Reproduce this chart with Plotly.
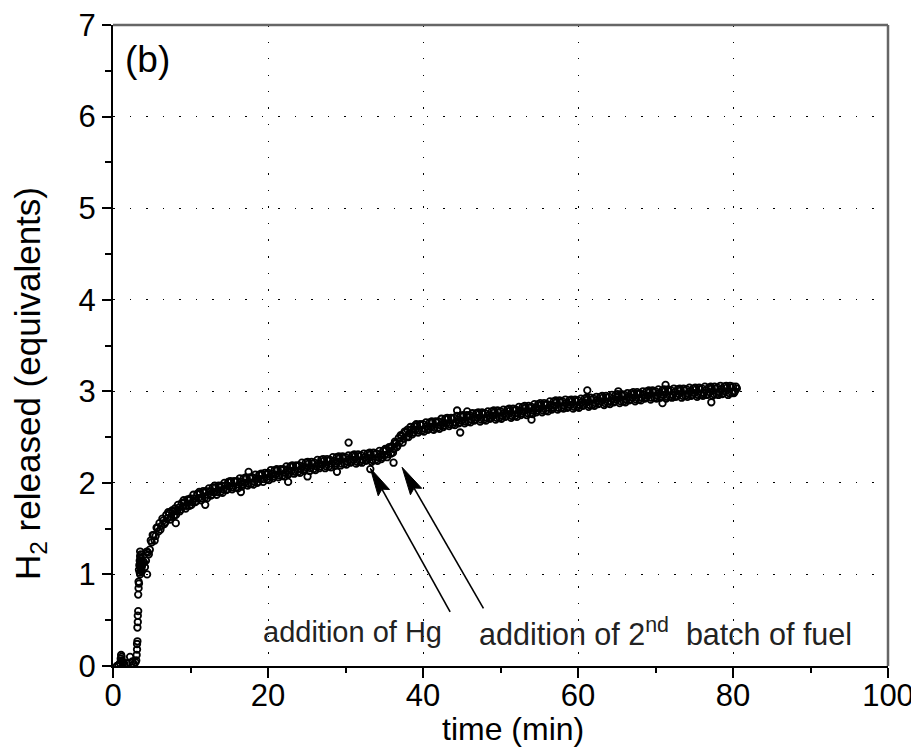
import math
import plotly.graph_objects as go

# ---- data ----
t_early = [0.5, 0.7, 0.9, 1.0, 1.05, 1.1, 1.15, 1.2, 1.3, 1.5, 1.8, 2.2, 2.5, 2.7, 2.9,
           3.0, 3.05, 3.1, 3.1, 3.15, 3.15, 3.2, 3.2, 3.25, 3.25, 3.3, 3.3, 3.35, 3.35,
           3.4, 3.45, 3.5, 3.5, 3.5, 3.55, 3.55, 3.6, 3.6, 3.65, 3.7, 3.8, 3.9,
           3.45, 3.5, 3.55, 3.6, 3.65, 3.7, 3.75]
y_early = [0.00, 0.01, 0.03, 0.08, 0.12, 0.10, 0.06, 0.04, 0.03, 0.02, 0.03, 0.10, 0.05, 0.02, 0.04,
           0.06, 0.12, 0.18, 0.24, 0.27, 0.42, 0.48, 0.55, 0.60, 0.78, 0.85, 0.92, 0.90, 1.05,
           1.10, 1.15, 1.20, 1.25, 1.00, 1.08, 1.18, 1.12, 1.22, 1.05, 1.08, 1.12, 1.14,
           1.02, 1.10, 1.14, 1.06, 1.17, 1.03, 1.10]

t_main = [
    4.0, 4.25, 4.5, 4.75, 5.0, 5.25, 5.5, 5.75, 6.0, 6.25, 6.5, 6.75, 7.0, 7.25, 7.5, 7.75,
    8.0, 8.25, 8.5, 8.75, 9.0, 9.25, 9.5, 9.75, 10.0, 10.25, 10.5, 10.75, 11.0, 11.25, 11.5, 11.75,
    12.0, 12.25, 12.5, 12.75, 13.0, 13.25, 13.5, 13.75, 14.0, 14.25, 14.5, 14.75, 15.0, 15.25, 15.5, 15.75,
    16.0, 16.25, 16.5, 16.75, 17.0, 17.25, 17.5, 17.75, 18.0, 18.25, 18.5, 18.75, 19.0, 19.25, 19.5, 19.75,
    20.0, 20.25, 20.5, 20.75, 21.0, 21.25, 21.5, 21.75, 22.0, 22.25, 22.5, 22.75, 23.0, 23.25, 23.5, 23.75,
    24.0, 24.25, 24.5, 24.75, 25.0, 25.25, 25.5, 25.75, 26.0, 26.25, 26.5, 26.75, 27.0, 27.25, 27.5, 27.75,
    28.0, 28.25, 28.5, 28.75, 29.0, 29.25, 29.5, 29.75, 30.0, 30.25, 30.5, 30.75, 31.0, 31.25, 31.5, 31.75,
    32.0, 32.25, 32.5, 32.75, 33.0, 33.25, 33.5, 33.75, 34.0, 34.25, 34.5, 34.75, 35.0, 35.25, 35.5, 35.75,
    36.0, 36.25, 36.5, 36.75, 37.0, 37.25, 37.5, 37.75, 38.0, 38.25, 38.5, 38.75, 39.0, 39.25, 39.5, 39.75,
    40.0, 40.25, 40.5, 40.75, 41.0, 41.25, 41.5, 41.75, 42.0, 42.25, 42.5, 42.75, 43.0, 43.25, 43.5, 43.75,
    44.0, 44.25, 44.5, 44.75, 45.0, 45.25, 45.5, 45.75, 46.0, 46.25, 46.5, 46.75, 47.0, 47.25, 47.5, 47.75,
    48.0, 48.25, 48.5, 48.75, 49.0, 49.25, 49.5, 49.75, 50.0, 50.25, 50.5, 50.75, 51.0, 51.25, 51.5, 51.75,
    52.0, 52.25, 52.5, 52.75, 53.0, 53.25, 53.5, 53.75, 54.0, 54.25, 54.5, 54.75, 55.0, 55.25, 55.5, 55.75,
    56.0, 56.25, 56.5, 56.75, 57.0, 57.25, 57.5, 57.75, 58.0, 58.25, 58.5, 58.75, 59.0, 59.25, 59.5, 59.75,
    60.0, 60.25, 60.5, 60.75, 61.0, 61.25, 61.5, 61.75, 62.0, 62.25, 62.5, 62.75, 63.0, 63.25, 63.5, 63.75,
    64.0, 64.25, 64.5, 64.75, 65.0, 65.25, 65.5, 65.75, 66.0, 66.25, 66.5, 66.75, 67.0, 67.25, 67.5, 67.75,
    68.0, 68.25, 68.5, 68.75, 69.0, 69.25, 69.5, 69.75, 70.0, 70.25, 70.5, 70.75, 71.0, 71.25, 71.5, 71.75,
    72.0, 72.25, 72.5, 72.75, 73.0, 73.25, 73.5, 73.75, 74.0, 74.25, 74.5, 74.75, 75.0, 75.25, 75.5, 75.75,
    76.0, 76.25, 76.5, 76.75, 77.0, 77.25, 77.5, 77.75, 78.0, 78.25, 78.5, 78.75, 79.0, 79.25, 79.5, 79.75,
    80.0, 80.25, 80.5]
y_main = [
    1.13, 1.15, 1.24, 1.27, 1.35, 1.43, 1.42, 1.51, 1.56, 1.53, 1.59, 1.57, 1.61, 1.67, 1.63, 1.69,
    1.72, 1.69, 1.73, 1.71, 1.74, 1.79, 1.75, 1.81, 1.83, 1.79, 1.83, 1.80, 1.83, 1.88, 1.83, 1.89,
    1.91, 1.87, 1.91, 1.87, 1.90, 1.95, 1.90, 1.95, 1.97, 1.93, 1.97, 1.93, 1.96, 2.01, 1.95, 2.01,
    2.02, 1.98, 2.01, 1.98, 2.00, 2.05, 1.99, 2.05, 2.06, 2.01, 2.05, 2.01, 2.04, 2.09, 2.04, 2.09,
    2.11, 2.07, 2.10, 2.07, 2.09, 2.14, 2.08, 2.14, 2.15, 2.11, 2.14, 2.11, 2.13, 2.18, 2.12, 2.18,
    2.19, 2.15, 2.18, 2.15, 2.17, 2.21, 2.16, 2.21, 2.22, 2.18, 2.21, 2.18, 2.20, 2.24, 2.18, 2.24,
    2.25, 2.21, 2.24, 2.21, 2.23, 2.27, 2.21, 2.27, 2.28, 2.23, 2.26, 2.23, 2.25, 2.29, 2.23, 2.29,
    2.30, 2.25, 2.28, 2.25, 2.27, 2.31, 2.25, 2.31, 2.32, 2.28, 2.31, 2.28, 2.30, 2.36, 2.31, 2.38,
    2.40, 2.37, 2.43, 2.41, 2.45, 2.51, 2.48, 2.55, 2.58, 2.54, 2.58, 2.55, 2.58, 2.62, 2.57, 2.63,
    2.64, 2.59, 2.62, 2.59, 2.61, 2.66, 2.60, 2.66, 2.67, 2.63, 2.66, 2.63, 2.65, 2.70, 2.64, 2.70,
    2.71, 2.66, 2.69, 2.66, 2.68, 2.73, 2.67, 2.73, 2.74, 2.69, 2.72, 2.69, 2.71, 2.75, 2.69, 2.75,
    2.76, 2.71, 2.74, 2.71, 2.73, 2.77, 2.71, 2.77, 2.78, 2.73, 2.76, 2.73, 2.75, 2.79, 2.73, 2.79,
    2.80, 2.76, 2.79, 2.76, 2.78, 2.82, 2.76, 2.82, 2.83, 2.79, 2.82, 2.79, 2.81, 2.85, 2.79, 2.85,
    2.86, 2.82, 2.85, 2.82, 2.84, 2.88, 2.82, 2.88, 2.89, 2.84, 2.87, 2.83, 2.85, 2.89, 2.83, 2.89,
    2.90, 2.85, 2.88, 2.85, 2.87, 2.91, 2.85, 2.91, 2.92, 2.87, 2.90, 2.87, 2.89, 2.93, 2.87, 2.93,
    2.94, 2.89, 2.92, 2.89, 2.91, 2.95, 2.89, 2.95, 2.96, 2.91, 2.94, 2.91, 2.93, 2.97, 2.91, 2.97,
    2.98, 2.93, 2.96, 2.93, 2.95, 2.99, 2.93, 2.99, 3.00, 2.95, 2.98, 2.94, 2.96, 3.00, 2.94, 3.00,
    3.01, 2.96, 2.99, 2.95, 2.97, 3.01, 2.95, 3.01, 3.02, 2.97, 3.00, 2.96, 2.98, 3.02, 2.96, 3.02,
    3.03, 2.98, 3.01, 2.97, 2.99, 3.03, 2.97, 3.03, 3.04, 2.99, 3.02, 2.98, 3.00, 3.04, 2.98, 3.04,
    3.05, 3.00, 3.03]

t_main2 = [
    4.125, 4.375, 4.625, 4.875, 5.125, 5.375, 5.625, 5.875, 6.125, 6.375, 6.625, 6.875, 7.125, 7.375, 7.625, 7.875,
    8.125, 8.375, 8.625, 8.875, 9.125, 9.375, 9.625, 9.875, 10.125, 10.375, 10.625, 10.875, 11.125, 11.375, 11.625, 11.875,
    12.125, 12.375, 12.625, 12.875, 13.125, 13.375, 13.625, 13.875, 14.125, 14.375, 14.625, 14.875, 15.125, 15.375, 15.625, 15.875,
    16.125, 16.375, 16.625, 16.875, 17.125, 17.375, 17.625, 17.875, 18.125, 18.375, 18.625, 18.875, 19.125, 19.375, 19.625, 19.875,
    20.125, 20.375, 20.625, 20.875, 21.125, 21.375, 21.625, 21.875, 22.125, 22.375, 22.625, 22.875, 23.125, 23.375, 23.625, 23.875,
    24.125, 24.375, 24.625, 24.875, 25.125, 25.375, 25.625, 25.875, 26.125, 26.375, 26.625, 26.875, 27.125, 27.375, 27.625, 27.875,
    28.125, 28.375, 28.625, 28.875, 29.125, 29.375, 29.625, 29.875, 30.125, 30.375, 30.625, 30.875, 31.125, 31.375, 31.625, 31.875,
    32.125, 32.375, 32.625, 32.875, 33.125, 33.375, 33.625, 33.875, 34.125, 34.375, 34.625, 34.875, 35.125, 35.375, 35.625, 35.875,
    36.125, 36.375, 36.625, 36.875, 37.125, 37.375, 37.625, 37.875, 38.125, 38.375, 38.625, 38.875, 39.125, 39.375, 39.625, 39.875,
    40.125, 40.375, 40.625, 40.875, 41.125, 41.375, 41.625, 41.875, 42.125, 42.375, 42.625, 42.875, 43.125, 43.375, 43.625, 43.875,
    44.125, 44.375, 44.625, 44.875, 45.125, 45.375, 45.625, 45.875, 46.125, 46.375, 46.625, 46.875, 47.125, 47.375, 47.625, 47.875,
    48.125, 48.375, 48.625, 48.875, 49.125, 49.375, 49.625, 49.875, 50.125, 50.375, 50.625, 50.875, 51.125, 51.375, 51.625, 51.875,
    52.125, 52.375, 52.625, 52.875, 53.125, 53.375, 53.625, 53.875, 54.125, 54.375, 54.625, 54.875, 55.125, 55.375, 55.625, 55.875,
    56.125, 56.375, 56.625, 56.875, 57.125, 57.375, 57.625, 57.875, 58.125, 58.375, 58.625, 58.875, 59.125, 59.375, 59.625, 59.875,
    60.125, 60.375, 60.625, 60.875, 61.125, 61.375, 61.625, 61.875, 62.125, 62.375, 62.625, 62.875, 63.125, 63.375, 63.625, 63.875,
    64.125, 64.375, 64.625, 64.875, 65.125, 65.375, 65.625, 65.875, 66.125, 66.375, 66.625, 66.875, 67.125, 67.375, 67.625, 67.875,
    68.125, 68.375, 68.625, 68.875, 69.125, 69.375, 69.625, 69.875, 70.125, 70.375, 70.625, 70.875, 71.125, 71.375, 71.625, 71.875,
    72.125, 72.375, 72.625, 72.875, 73.125, 73.375, 73.625, 73.875, 74.125, 74.375, 74.625, 74.875, 75.125, 75.375, 75.625, 75.875,
    76.125, 76.375, 76.625, 76.875, 77.125, 77.375, 77.625, 77.875, 78.125, 78.375, 78.625, 78.875, 79.125, 79.375, 79.625, 79.875,
    80.125, 80.375]
y_main2 = [
    1.08, 1.25, 1.22, 1.37, 1.43, 1.37, 1.51, 1.47, 1.49, 1.61, 1.55, 1.65, 1.68, 1.60, 1.70, 1.64,
    1.65, 1.76, 1.69, 1.78, 1.81, 1.72, 1.82, 1.75, 1.76, 1.87, 1.79, 1.88, 1.90, 1.81, 1.91, 1.84,
    1.83, 1.94, 1.86, 1.95, 1.97, 1.87, 1.97, 1.90, 1.89, 2.00, 1.92, 2.01, 2.02, 1.93, 2.02, 1.95,
    1.94, 2.05, 1.96, 2.05, 2.06, 1.97, 2.06, 1.99, 1.98, 2.09, 2.00, 2.09, 2.10, 2.01, 2.11, 2.04,
    2.03, 2.14, 2.05, 2.14, 2.15, 2.06, 2.15, 2.08, 2.07, 2.18, 2.09, 2.18, 2.19, 2.10, 2.19, 2.12,
    2.11, 2.22, 2.13, 2.22, 2.23, 2.13, 2.23, 2.15, 2.14, 2.25, 2.16, 2.25, 2.26, 2.16, 2.26, 2.18,
    2.17, 2.28, 2.19, 2.28, 2.29, 2.19, 2.29, 2.21, 2.20, 2.30, 2.22, 2.30, 2.31, 2.21, 2.31, 2.23,
    2.22, 2.32, 2.24, 2.32, 2.33, 2.23, 2.33, 2.25, 2.24, 2.35, 2.26, 2.35, 2.37, 2.28, 2.39, 2.32,
    2.33, 2.45, 2.39, 2.49, 2.52, 2.44, 2.56, 2.50, 2.50, 2.61, 2.53, 2.62, 2.64, 2.55, 2.64, 2.57,
    2.56, 2.66, 2.58, 2.66, 2.67, 2.58, 2.67, 2.60, 2.59, 2.70, 2.61, 2.70, 2.71, 2.62, 2.71, 2.64,
    2.63, 2.73, 2.65, 2.73, 2.74, 2.65, 2.74, 2.67, 2.66, 2.76, 2.68, 2.76, 2.77, 2.67, 2.77, 2.69,
    2.68, 2.78, 2.70, 2.78, 2.79, 2.69, 2.79, 2.71, 2.70, 2.80, 2.72, 2.80, 2.81, 2.71, 2.81, 2.73,
    2.72, 2.83, 2.74, 2.83, 2.84, 2.74, 2.84, 2.76, 2.75, 2.86, 2.77, 2.86, 2.87, 2.77, 2.87, 2.79,
    2.78, 2.89, 2.80, 2.89, 2.90, 2.80, 2.90, 2.82, 2.81, 2.91, 2.82, 2.90, 2.91, 2.81, 2.91, 2.83,
    2.82, 2.92, 2.84, 2.92, 2.93, 2.83, 2.93, 2.85, 2.84, 2.94, 2.86, 2.94, 2.95, 2.85, 2.95, 2.87,
    2.86, 2.96, 2.88, 2.96, 2.97, 2.87, 2.97, 2.89, 2.88, 2.98, 2.90, 2.98, 2.99, 2.89, 2.99, 2.91,
    2.90, 3.00, 2.92, 3.00, 3.01, 2.91, 3.01, 2.93, 2.92, 3.02, 2.93, 3.01, 3.02, 2.92, 3.02, 2.94,
    2.93, 3.03, 2.94, 3.02, 3.03, 2.93, 3.03, 2.95, 2.94, 3.04, 2.95, 3.03, 3.04, 2.94, 3.04, 2.96,
    2.95, 3.05, 2.96, 3.04, 3.05, 2.95, 3.05, 2.97, 2.96, 3.06, 2.97, 3.05, 3.06, 2.96, 3.06, 2.98,
    2.98, 3.05]

t_outliers = [4.4, 8.1, 11.9, 16.5, 17.5, 22.6, 25.1, 28.9, 30.4, 33.2, 36.2, 36.5,
              44.4, 44.8, 45.7, 54.0, 61.2, 65.2, 70.9, 71.3, 77.2]
y_outliers = [1.00, 1.56, 1.76, 1.90, 2.12, 2.01, 2.07, 2.12, 2.44, 2.15, 2.22, 2.44,
              2.79, 2.55, 2.78, 2.69, 3.01, 3.00, 2.87, 3.07, 2.88]

x_ticks = [0, 20, 40, 60, 80, 100]
y_ticks = [0, 1, 2, 3, 4, 5, 6, 7]
X_RANGE = [0, 100]
Y_RANGE = [0, 7]

FONT = "Liberation Sans, Arial, Helvetica, sans-serif"

W, H = 919, 748
M = dict(l=105, r=39, t=17, b=90)   # page body adds an 8px offset
PW = W - M["l"] - M["r"]
PH = H - M["t"] - M["b"]

fig = go.Figure()
fig.add_trace(go.Scatter(
    x=t_early + t_main + t_main2 + t_outliers,
    y=y_early + y_main + y_main2 + y_outliers,
    mode="markers",
    marker=dict(symbol="circle-open", size=6.5, color="black", line=dict(width=1.8, color="black")),
    showlegend=False,
    hoverinfo="x+y",
))

axis_common = dict(
    showline=True, linecolor="black", linewidth=2, mirror=False,
    ticks="outside", tickcolor="black", tickwidth=1.5,
    showgrid=True, gridcolor="black", gridwidth=1.2, griddash="1.5px,15px",
    zeroline=False, automargin=False, ticklabeloverflow="allow",
    tickfont=dict(family=FONT, size=31, color="black"),
)

fig.update_xaxes(
    range=X_RANGE, tickvals=x_ticks, ticklen=10, ticklabelstandoff=-9,
    minor=dict(dtick=10, ticklen=5, tickcolor="black", tickwidth=1.5, ticks="outside", showgrid=False),
    **axis_common,
)
fig.update_yaxes(
    range=Y_RANGE, tickvals=y_ticks, ticklen=9,
    minor=dict(dtick=0.5, ticklen=6, tickcolor="black", tickwidth=1.5, ticks="outside", showgrid=False),
    **axis_common,
)

# axis titles as annotations (placed like the reference)
fig.add_annotation(xref="paper", yref="paper", x=0.516, y=-0.098, text="time (min)",
                   showarrow=False, xanchor="center", yanchor="middle",
                   font=dict(family=FONT, size=32, color="black"))
fig.add_annotation(xref="paper", yref="paper", x=-0.107, y=0.44,
                   text="H<sub>2</sub> released (equivalents)", textangle=-90,
                   showarrow=False, xanchor="center", yanchor="middle",
                   font=dict(family=FONT, size=35, color="black"))

# top and right frame lines (grey)
fig.add_shape(type="line", xref="paper", yref="paper", x0=0, x1=1, y0=1, y1=1,
              line=dict(color="#666666", width=2.5))
fig.add_shape(type="line", xref="paper", yref="paper", x0=1, x1=1, y0=0, y1=1,
              line=dict(color="#666666", width=2.5))

ann_font = dict(family=FONT, size=29, color="#222222")
fig.add_annotation(x=1.3, y=6.62, xref="x", yref="y", text="(b)", showarrow=False,
                   xanchor="left", yanchor="middle", font=dict(family=FONT, size=37, color="black"))
fig.add_annotation(x=30.9, y=0.37, xref="x", yref="y", text="addition of Hg", showarrow=False,
                   xanchor="center", yanchor="middle", font=ann_font)
fig.add_annotation(x=71.3, y=0.37, xref="x", yref="y",
                   text="addition of 2<sup>nd</sup>  batch of fuel", showarrow=False,
                   xanchor="center", yanchor="middle", font=dict(family=FONT, size=30.5, color="#222222"))

# arrows: shaft + slender filled head
sx = PW / (X_RANGE[1] - X_RANGE[0])
sy = PH / (Y_RANGE[1] - Y_RANGE[0])
HEAD_L, HEAD_W, NOTCH = 28.0, 6.5, 4.0
for (tx, ty, hx, hy) in [(43.5, 0.59, 33.2, 2.16), (47.8, 0.63, 37.3, 2.17)]:
    dxp, dyp = (tx - hx) * sx, (ty - hy) * sy
    L = math.hypot(dxp, dyp)
    ux, uy = dxp / L, dyp / L
    px, py = -uy, ux
    bx, by = ux * HEAD_L, uy * HEAD_L
    c1 = (hx + (bx + px * HEAD_W) / sx, hy + (by + py * HEAD_W) / sy)
    c2 = (hx + (bx - px * HEAD_W) / sx, hy + (by - py * HEAD_W) / sy)
    nb = (hx + ux * (HEAD_L - NOTCH) / sx, hy + uy * (HEAD_L - NOTCH) / sy)
    fig.add_shape(type="line", xref="x", yref="y", x0=tx, y0=ty, x1=nb[0], y1=nb[1],
                  line=dict(color="black", width=1.6))
    path = (f"M {hx},{hy} L {c1[0]},{c1[1]} L {nb[0]},{nb[1]} "
            f"L {c2[0]},{c2[1]} Z")
    fig.add_shape(type="path", xref="x", yref="y", path=path,
                  fillcolor="black", line=dict(color="black", width=1))

fig.update_layout(
    width=W, height=H,
    margin=M,
    plot_bgcolor="white", paper_bgcolor="white",
    font=dict(family=FONT, color="black"),
)

fig.write_html("out.html")
